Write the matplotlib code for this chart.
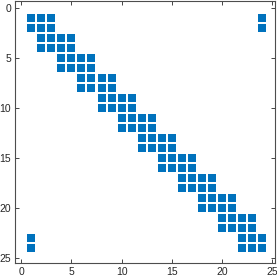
import matplotlib
matplotlib.use("Agg")
import matplotlib.pyplot as plt

# nonzero columns for each pair of rows (rows 1-2, 3-4, ..., 23-24)
row_pairs = [1, 3, 5, 7, 9, 11, 13, 15, 17, 19, 21, 23]
cols_per_pair = [
    [1, 2, 3, 24],
    [2, 3, 4, 5],
    [4, 5, 6, 7],
    [6, 7, 8, 9],
    [8, 9, 10, 11],
    [10, 11, 12, 13],
    [12, 13, 14, 15],
    [14, 15, 16, 17],
    [16, 17, 18, 19],
    [18, 19, 20, 21],
    [20, 21, 22, 23],
    [1, 22, 23, 24],
]

rows = []
cols = []
for r, cs in zip(row_pairs, cols_per_pair):
    for rr in (r, r + 1):
        for c in cs:
            rows.append(rr)
            cols.append(c)

blue = "#0072BD"
axc = "#262626"
plt.rcParams["font.family"] = ["Liberation Sans", "DejaVu Sans"]

fig = plt.figure(figsize=(2.77, 2.76), dpi=100)
ax = fig.add_axes([14.7 / 277, 13.3 / 276, 259.8 / 277, 261.7 / 276])
ax.plot(cols, rows, ls="none", marker="s", markersize=6, color=blue,
        markeredgewidth=0)

ax.set_xlim(-0.63, 25.2)
ax.set_ylim(25.5, -0.7)
ax.set_xticks([0, 5, 10, 15, 20, 25])
ax.set_yticks([0, 5, 10, 15, 20, 25])
ax.tick_params(direction="in", top=True, right=True, length=3, width=0.6,
               labelsize=7.5, colors=axc)
ax.tick_params(axis="x", pad=2.8)
ax.tick_params(axis="y", pad=2.5)
for s in ax.spines.values():
    s.set_color("#4d4d4d")
    s.set_linewidth(0.8)

fig.savefig("out.png", dpi=100)
